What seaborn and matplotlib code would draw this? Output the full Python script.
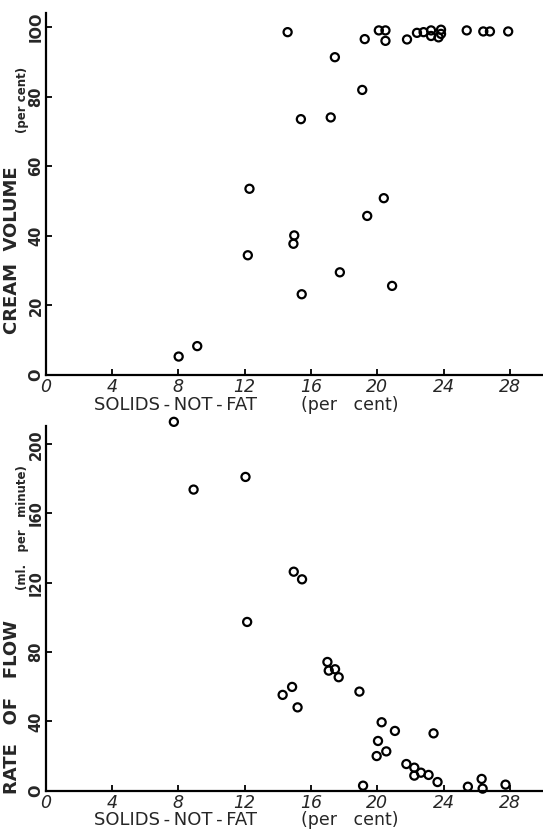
import matplotlib
matplotlib.use("Agg")
import matplotlib.pyplot as plt
import seaborn as sns
import pandas as pd

# ---- data ----
cream_snf = [14.6, 19.25, 20.1, 20.5, 20.5, 21.8, 22.4, 22.8, 23.25, 23.25, 23.7, 23.85, 23.85,
             25.4, 26.4, 26.8, 27.9, 17.45, 19.1, 15.4, 17.2, 12.3, 20.4, 19.4, 15.0, 14.95,
             12.2, 17.75, 20.9, 15.45, 9.15, 8.03]
cream_vol = [98.5, 96.5, 99.0, 99.0, 96.0, 96.4, 98.3, 98.5, 99.0, 97.4, 97.0, 99.2, 98.0,
             99.0, 98.7, 98.7, 98.7, 91.3, 81.9, 73.5, 74.0, 53.5, 50.8, 45.7, 40.1, 37.7,
             34.4, 29.5, 25.6, 23.2, 8.3, 5.3]

flow_snf = [7.74, 8.93, 12.06, 14.97, 15.47, 12.16, 14.3, 14.87, 15.2, 17.0, 17.08, 17.46,
            17.68, 18.93, 19.15, 20.27, 20.05, 19.97, 20.55, 21.07, 21.76, 22.24, 22.24,
            22.64, 23.1, 23.4, 23.64, 25.47, 26.3, 26.36, 27.74]
flow_rate = [212.9, 173.8, 181.1, 126.4, 122.0, 97.4, 55.3, 59.9, 48.1, 74.3, 69.3, 70.1,
             65.5, 57.2, 2.9, 39.5, 28.7, 20.0, 22.7, 34.5, 15.4, 13.3, 8.7,
             10.4, 9.1, 33.1, 5.0, 2.3, 6.8, 1.2, 3.5]

x_ticks = [0, 4, 8, 12, 16, 20, 24, 28]
cream_ticks = [0, 20, 40, 60, 80, 100]
cream_tick_labels = ["O", "20", "40", "60", "80", "IOO"]
flow_ticks = [0, 40, 80, 120, 160, 200]
flow_tick_labels = ["O", "40", "80", "I20", "I60", "200"]

sns.set_style("ticks")
plt.rcParams['font.family'] = ['DejaVu Sans']

W, H = 543, 833
fig = plt.figure(figsize=(W / 100, H / 100), dpi=100)

def px(x, y):
    return x / W, 1 - y / H

ax1 = fig.add_axes([45.5 / W, 1 - 375 / H, 1 - 45.5 / W, (375 - 13) / H])
ax2 = fig.add_axes([45.5 / W, 1 - 790.7 / H, 1 - 45.5 / W, (790.7 - 426) / H])

df1 = pd.DataFrame({"snf": cream_snf, "vol": cream_vol})
df2 = pd.DataFrame({"snf": flow_snf, "rate": flow_rate})

mk = dict(s=34, facecolor="none", edgecolor="black", linewidth=1.6, marker="o",
          legend=False, clip_on=False, zorder=3)
sns.scatterplot(data=df1, x="snf", y="vol", ax=ax1, **mk)
sns.scatterplot(data=df2, x="snf", y="rate", ax=ax2, **mk)

for ax, yt, ytl, ytop in [(ax1, cream_ticks, cream_tick_labels, 104),
                           (ax2, flow_ticks, flow_tick_labels, 210.5)]:
    ax.set_xlim(0, 30)
    ax.set_ylim(0, ytop)
    sns.despine(ax=ax)
    for s in ["left", "bottom"]:
        ax.spines[s].set_linewidth(1.6)
        ax.spines[s].set_color("black")
    ax.set_xticks(x_ticks)
    ax.set_xticklabels([str(t) for t in x_ticks], fontsize=12.5, style="italic")
    ax.set_yticks(yt)
    ax.set_yticklabels(ytl, fontsize=10.5, rotation=90, va="center", fontweight="bold")
    ax.tick_params(axis="both", direction="in", length=4, width=1.3, color="black")
    ax.tick_params(axis="x", pad=2.5)
    ax.tick_params(axis="y", pad=1.5)
    ax.set_xlabel("")
    ax.set_ylabel("")
    ax.patch.set_alpha(0)

# y-axis titles
fig.text(*px(12, 250), "CREAM  VOLUME", rotation=90, ha="center", va="center",
         fontsize=13, fontweight="bold")
fig.text(*px(22.5, 100), "(per cent)", rotation=90, ha="center", va="center",
         fontsize=8.5, fontweight="bold")
fig.text(*px(12, 707), "RATE   OF   FLOW", rotation=90, ha="center", va="center",
         fontsize=13, fontweight="bold")
fig.text(*px(22.5, 528), "(ml.   per   minute)", rotation=90, ha="center", va="center",
         fontsize=8.5, fontweight="bold")

# x-axis titles
for yc in (405, 820):
    fig.text(*px(176, yc), "SOLIDS\u2009-\u2009NOT\u2009-\u2009FAT", ha="center", va="center",
             fontsize=13)
    fig.text(*px(350, yc), "(per   cent)", ha="center", va="center", fontsize=12.5)

fig.savefig("out.png", dpi=100)
